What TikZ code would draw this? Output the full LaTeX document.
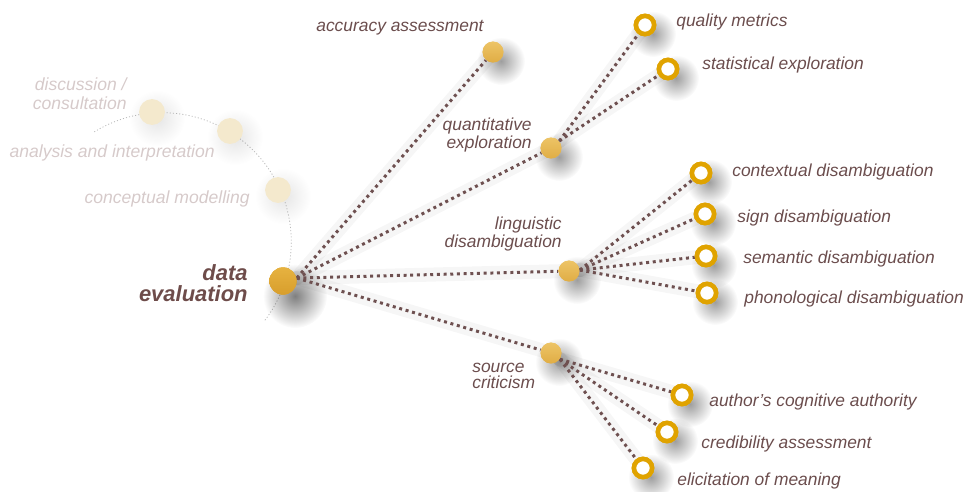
\documentclass[tikz,border=0pt]{standalone}
\usepackage{fontspec}
\setmainfont{Liberation Sans}
\usetikzlibrary{fadings}
\definecolor{txt}{HTML}{6B4D4D}
\definecolor{maintxt}{HTML}{6E4C4A}
\definecolor{dotc}{HTML}{6E5050}
\definecolor{goldA}{HTML}{EDC466}
\definecolor{goldB}{HTML}{E0AD45}
\definecolor{maingoldA}{HTML}{E6B240}
\definecolor{maingoldB}{HTML}{D89E2C}
\definecolor{ringc}{HTML}{E0A300}
\definecolor{pale}{HTML}{F4E9CD}
\definecolor{paletxt}{HTML}{D6CACA}
\tikzfading[name=softfade, inner color=transparent!0, outer color=transparent!100]
\begin{document}
\begin{tikzpicture}[x=0.02cm,y=-0.02cm,
  lbl/.style={font=\fontsize{9.9}{8.6}\selectfont\itshape, text=txt, inner sep=0pt},
  mainlbl/.style={font=\fontsize{12.5}{11.6}\selectfont\bfseries\itshape, inner sep=0pt, align=right},
  fadelbl/.style={font=\fontsize{10}{10.8}\selectfont\itshape, text=paletxt, inner sep=0pt},
  dotline/.style={draw=dotc, line width=1.7pt, dash pattern=on 1.7pt off 2.1pt},
  halo/.style={draw=black, line width=8pt, opacity=0.035, line cap=round},
  hub/.style={circle, shade, top color=goldA, bottom color=goldB, inner sep=0pt, minimum size=11.9pt},
  mainhub/.style={circle, shade, top color=maingoldA, bottom color=maingoldB, inner sep=0pt, minimum size=15.6pt},
  leaf/.style={circle, draw=ringc, line width=2.6pt, fill=white, inner sep=0pt, minimum size=10.3pt},
  faded/.style={circle, fill=pale, inner sep=0pt, minimum size=14.7pt},
  shadowdisc/.style={fill=black, opacity=#1, path fading=softfade},
  shadowdisc/.default=0.3
]
\useasboundingbox (0,0) rectangle (966,491);

% faint arc
\draw[gray!55, line width=0.45pt, dash pattern=on 0.6pt off 1.2pt]
  (162,242) ++(-121.6:129.3) arc[start angle=-121.6, end angle=38, radius=129.3];

% shadows
\foreach \x/\y in {152/112,230/131,278/190}
  \fill[shadowdisc=0.10] (\x+5,\y+6) circle[radius=28];
\fill[shadowdisc=0.5] (295,296) circle[radius=32];
\foreach \x/\y in {493/52,551/148,569/271,551/353}
  \fill[shadowdisc=0.38] (\x+8,\y+9) circle[radius=24];
\foreach \x/\y in {645/25,668/69,701/173,705/214,706/256,707/293,682/395,667/432,643/468}
  \fill[shadowdisc=0.38] (\x+8,\y+9) circle[radius=23];

% nodes
\node[faded] (disc) at (152,112) {};
\node[faded] (ana) at (230,131) {};
\node[faded] (con) at (278,190) {};

\node[mainhub] (de) at (283,281) {};
\node[hub] (acc) at (493,52) {};
\node[hub] (quant) at (551,148) {};
\node[hub] (ling) at (569,271) {};
\node[hub] (src) at (551,353) {};

\node[leaf] (qm) at (645,25) {};
\node[leaf] (se) at (668,69) {};
\node[leaf] (ctx) at (701,173) {};
\node[leaf] (sign) at (705,214) {};
\node[leaf] (sem) at (706,256) {};
\node[leaf] (phon) at (707,293) {};
\node[leaf] (auth) at (682,395) {};
\node[leaf] (cred) at (667,432) {};
\node[leaf] (elic) at (643,468) {};

% connector halos
\foreach \t in {acc,quant,ling,src} \draw[halo] (de.12) -- (\t.center);
\foreach \t in {qm,se} \draw[halo] (quant.40) -- (\t.center);
\foreach \t in {ctx,sign,sem,phon} \draw[halo] (ling.5) -- (\t.center);
\foreach \t in {auth,cred,elic} \draw[halo] (src.-35) -- (\t.center);

% connectors
\foreach \t in {acc,quant,ling,src} \draw[dotline] (de.12) -- (\t);
\foreach \t in {qm,se} \draw[dotline] (quant.40) -- (\t);
\foreach \t in {ctx,sign,sem,phon} \draw[dotline] (ling.5) -- (\t);
\foreach \t in {auth,cred,elic} \draw[dotline] (src.-35) -- (\t);

% redraw nodes on top of the connectors
\node[mainhub] at (de) {};
\foreach \t in {acc,quant,ling,src} \node[hub] at (\t) {};
\foreach \t in {qm,se,ctx,sign,sem,phon,auth,cred,elic} \node[leaf] at (\t) {};

% labels
\node[fadelbl, anchor=base east, align=right] (discl) at (127,109) {discussion /\\consultation};
\node[fadelbl, anchor=base east] (anal) at (215,157) {analysis and interpretation};
\node[fadelbl, anchor=base east] (conl) at (250,203) {conceptual modelling};

\node[mainlbl, anchor=base east, text=maintxt] (del) at (248,301) {data\\evaluation};

\node[lbl, anchor=base west] (accl) at (316,31) {accuracy assessment};
\node[lbl, anchor=base east, align=right] (quantl) at (532,148) {quantitative\\exploration};
\node[lbl, anchor=base west] (qml) at (676,26) {quality metrics};
\node[lbl, anchor=base west] (sel) at (702,69) {statistical exploration};
\node[lbl, anchor=base east, align=right] (lingl) at (562,247) {linguistic\\disambiguation};
\node[lbl, anchor=base west] (ctxl) at (732,176) {contextual disambiguation};
\node[lbl, anchor=base west] (signl) at (737,222) {sign disambiguation};
\node[lbl, anchor=base west] (seml) at (743,263) {semantic disambiguation};
\node[lbl, anchor=base west] (phonl) at (744,303) {phonological disambiguation};
\node[lbl, anchor=base west, align=left] (srcl) at (472,388) {source\\criticism};
\node[lbl, anchor=base west] (authl) at (709,406) {author’s cognitive authority};
\node[lbl, anchor=base west] (credl) at (701,448) {credibility assessment};
\node[lbl, anchor=base west] (elicl) at (677,485) {elicitation of meaning};
\end{tikzpicture}
\end{document}
